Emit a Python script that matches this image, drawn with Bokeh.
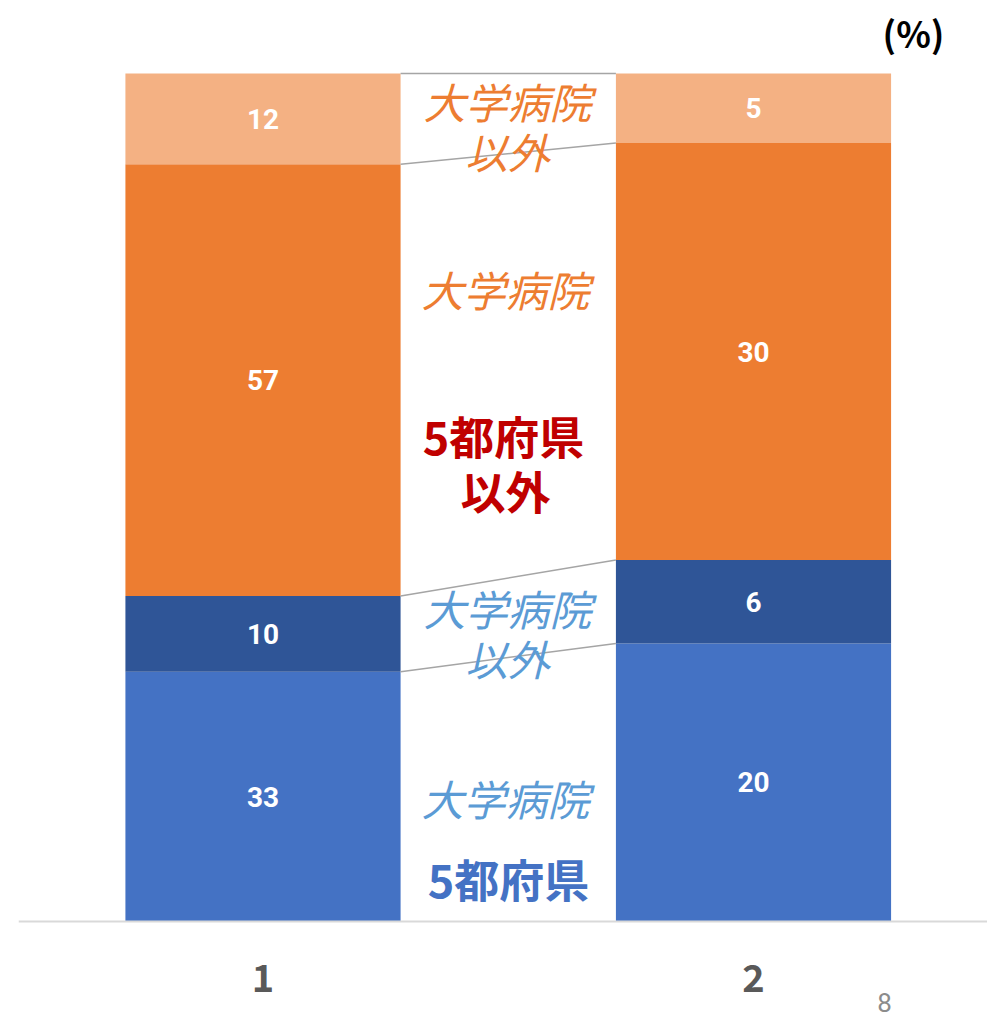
from bokeh.plotting import figure
from bokeh.models import FixedTicker, Range1d
from bokeh.core.properties import value
from bokeh.embed import file_html
from bokeh.resources import INLINE

# ---- data ----
categories = [1, 2]
univ_5pref = [33, 20]          # 大学病院 / 5都府県
nonuniv_5pref = [10, 6]        # 大学病院以外 / 5都府県
univ_other = [57, 30]          # 大学病院 / 5都府県以外
nonuniv_other = [12, 5]        # 大学病院以外 / 5都府県以外
series = [univ_5pref, nonuniv_5pref, univ_other, nonuniv_other]
colors = ["#4472C4", "#2F5597", "#ED7D31", "#F4B183"]
page_number = "8"
unit_label = "(%)"

JP = "Noto Sans CJK JP"
BAR_W = 0.561
PX = 848.0  # pixels per 100% (layout)

def xpix(px):
    return 1 + (px - 262.5) / 490.5

def ypix(py):
    return (921 - py) / PX

p = figure(width=987, height=1020, output_backend="svg", toolbar_location=None,
           x_range=Range1d(xpix(18), xpix(987)),
           y_range=Range1d(ypix(1020), ypix(0)),
           min_border_left=18, min_border_right=0, min_border_top=0, min_border_bottom=0)
p.outline_line_color = None
p.grid.visible = False
p.yaxis.visible = False
p.background_fill_color = "white"
p.border_fill_color = "white"

# stacked 100% bars
totals = [sum(s[i] for s in series) for i in range(len(categories))]
bottoms = [0.0] * len(categories)
label_x, label_y, label_t = [], [], []
bounds = []
for s, c in zip(series, colors):
    fr = [v / t for v, t in zip(s, totals)]
    tops = [b + f for b, f in zip(bottoms, fr)]
    p.vbar(x=categories, width=BAR_W, bottom=bottoms, top=tops, fill_color=c, line_color=None)
    for i in range(len(categories)):
        label_x.append(categories[i])
        label_y.append((bottoms[i] + tops[i]) / 2)
        label_t.append(str(s[i]))
    bounds.append(tops)
    bottoms = tops

# series connector lines
p.segment(x0=[categories[0] + BAR_W / 2] * len(bounds), y0=[b[0] for b in bounds],
          x1=[categories[1] - BAR_W / 2] * len(bounds), y1=[b[1] for b in bounds],
          line_color="#A5A5A5", line_width=1.5)

p.text(x=label_x, y=label_y, text=label_t, text_color="white", text_font=value("Roboto"),
       text_font_style="bold", text_font_size="28px", text_align="center", text_baseline="middle")

# middle annotations
ann = [
    ("大学病院", 507, 100, "#ED7D31", "italic", "42px"),
    ("以外", 507, 150, "#ED7D31", "italic", "42px"),
    ("大学病院", 505, 288, "#ED7D31", "italic", "42px"),
    ("5都府県", 503, 435, "#C00000", "bold", "45px"),
    ("以外", 505, 490, "#C00000", "bold", "45px"),
    ("大学病院", 507, 607, "#5B9BD5", "italic", "42px"),
    ("以外", 507, 657, "#5B9BD5", "italic", "42px"),
    ("大学病院", 505, 797, "#5B9BD5", "italic", "42px"),
    ("5都府県", 508, 878, "#4472C4", "bold", "45px"),
]
for t, px, py, col, sty, sz in ann:
    p.text(x=[xpix(px)], y=[ypix(py)], text=[t], text_color=col, text_font=value(JP),
           text_font_style=sty, text_font_size=sz, text_align="center", text_baseline="middle")

p.text(x=[xpix(913)], y=[ypix(31)], text=[unit_label], text_color="black",
       text_font=value(JP), text_font_style="bold", text_font_size="36px",
       text_align="center", text_baseline="middle")
p.text(x=[xpix(884)], y=[ypix(1002)], text=[page_number], text_color="#8C8C8C",
       text_font=value("Roboto"), text_font_size="26px",
       text_align="center", text_baseline="middle")

# x axis at y = 0
p.xaxis.fixed_location = 0
p.xaxis.ticker = FixedTicker(ticks=categories)
p.xaxis.axis_line_color = "#D9D9D9"
p.xaxis.axis_line_width = 2
p.xaxis.major_tick_line_color = None
p.xaxis.minor_tick_line_color = None
p.xaxis.major_label_standoff = 36
p.xaxis.major_label_text_font = JP
p.xaxis.major_label_text_font_size = "38px"
p.xaxis.major_label_text_font_style = "bold"
p.xaxis.major_label_text_color = "#595959"

open("out.html", "w").write(file_html(p, INLINE))
